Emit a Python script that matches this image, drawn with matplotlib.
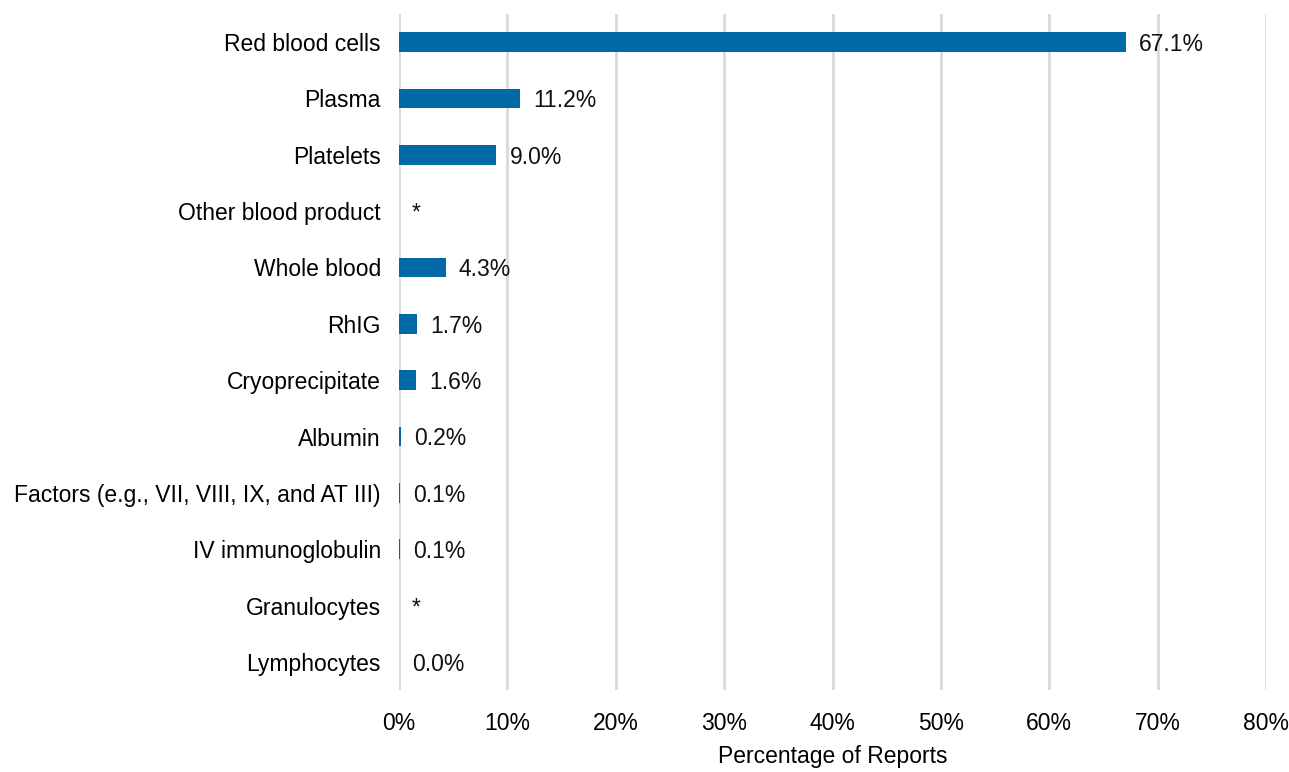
import matplotlib.pyplot as plt

categories = ["Red blood cells", "Plasma", "Platelets", "Other blood product",
              "Whole blood", "RhIG", "Cryoprecipitate", "Albumin",
              "Factors (e.g., VII, VIII, IX, and AT III)", "IV immunoglobulin",
              "Granulocytes", "Lymphocytes"]
values = [67.1, 11.2, 9.0, 0.0, 4.3, 1.7, 1.6, 0.2, 0.1, 0.1, 0.0, 0.0]
labels = ["67.1%", "11.2%", "9.0%", "*", "4.3%", "1.7%", "1.6%", "0.2%",
          "0.1%", "0.1%", "*", "0.0%"]
xticks = [0, 10, 20, 30, 40, 50, 60, 70, 80]

plt.rcParams['font.family'] = ['Liberation Sans', 'DejaVu Sans']
fs = 16.5

fig = plt.figure(figsize=(12.89, 7.72), dpi=100)
ax = fig.add_axes([0.3095, 0.106, 0.6727, 0.876])

y = list(range(len(categories)))
ax.barh(y, values, height=0.35, color='#0069a6', linewidth=0, zorder=3)
for yi, v, lab in zip(y, values, labels):
    ax.text(v + 1.2, yi + 0.04, lab, va='center', ha='left', fontsize=fs,
            color='#111111', zorder=4)

ax.set_ylim(len(categories) - 0.5, -0.5)
ax.set_xlim(0, 80)
ax.set_yticks(y)
ax.set_yticklabels(categories, fontsize=fs)
ax.set_xticks(xticks)
ax.set_xticklabels([f"{t}%" for t in xticks], fontsize=fs)
ax.tick_params(axis='both', length=0)
ax.tick_params(axis='y', pad=13)
ax.tick_params(axis='x', pad=16)
ax.grid(axis='x', color='#d9d9d9', linewidth=2, zorder=0)
for s in ax.spines.values():
    s.set_visible(False)
ax.set_xlabel("Percentage of Reports", fontsize=fs, labelpad=7)

fig.savefig("out.png", dpi=100)
